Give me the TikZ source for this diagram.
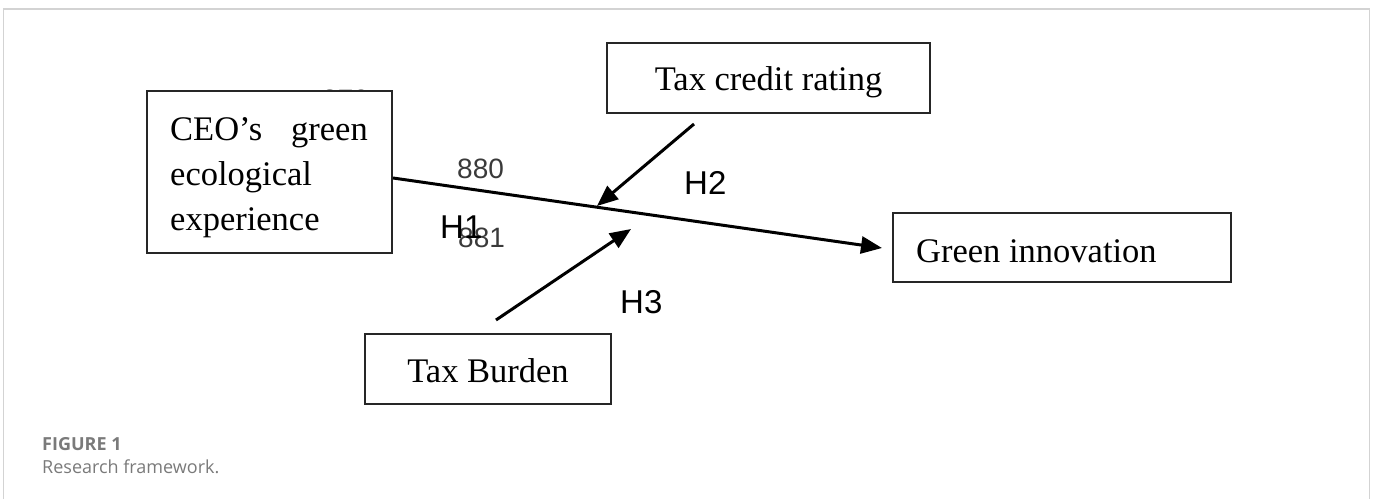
\documentclass[tikz,border=0pt]{standalone}
\usepackage{fontspec}
\setmainfont{Liberation Serif}
\newfontfamily\labfont{Liberation Sans}
\newfontfamily\capfont{Open Sans}
\usetikzlibrary{arrows.meta}
\definecolor{framegray}{HTML}{D3D3D3}
\definecolor{numgray}{HTML}{3A3A3A}
\definecolor{capgray}{HTML}{7A7A7A}
\tikzset{
  boxstyle/.style={draw=black!85, line width=2pt, fill=white, inner sep=0pt},
  boxtext/.style={font=\fontsize{34.5}{45}\selectfont, inner sep=0pt, anchor=base west},
  hlabel/.style={font=\labfont\fontsize{33}{36}\selectfont, inner sep=0pt, anchor=base west},
  numlabel/.style={font=\labfont\fontsize{28}{30}\selectfont, text=numgray, inner sep=0pt, anchor=base west},
  arr/.style={line width=3pt, -{Triangle[length=21pt,width=17pt]}},
  framestyle/.style={draw=framegray, line width=1.5pt}
}
\begin{document}
\begin{tikzpicture}[x=1pt,y=-1pt]
\useasboundingbox (0,0) rectangle (1375,499);
% frame
\draw[framestyle] (3.5,499) -- (3.5,9) -- (1369.5,9) -- (1369.5,499);
% hidden number behind box
\node[numlabel] (n870) at (322,109) {870};
% boxes
\node[boxstyle, minimum width=245pt, minimum height=162pt] (ceo) at (269.5,172) {};
\node[boxtext] (ceo1) at (170,140) {CEO’s};
\node[boxtext, anchor=base east] (ceo2) at (368,140) {green};
\node[boxtext] (ceo3) at (170,185) {ecological};
\node[boxtext] (ceo4) at (170,230) {experience};
\node[boxstyle, minimum width=323pt, minimum height=70pt] (tcr) at (768.5,78) {};
\node[boxtext, anchor=base] (tcrt) at (768.5,90) {Tax credit rating};
\node[boxstyle, minimum width=338pt, minimum height=69pt] (gi) at (1062,247.5) {};
\node[boxtext] (git) at (916,262) {Green innovation};
\node[boxstyle, minimum width=246pt, minimum height=70pt] (tb) at (488,369) {};
\node[boxtext, anchor=base] (tbt) at (488,382) {Tax Burden};
% connector end points
\coordinate (mainstart) at (393,178);
\coordinate (maintip) at (882,248);
\coordinate (h2start) at (694,124);
\coordinate (h2tip) at (597,206);
\coordinate (h3start) at (496,320);
\coordinate (h3tip) at (631,229);
\draw[arr] (mainstart) -- (maintip);
\draw[arr] (h2start) -- (h2tip);
\draw[arr] (h3start) -- (h3tip);
% labels
\node[numlabel] (n880) at (457,178) {880};
\node[numlabel] (n881) at (458,247) {881};
\node[hlabel] (h1) at (440,238) {H1};
\node[hlabel] (h2) at (684,194) {H2};
\node[hlabel] (h3) at (620,313) {H3};
% caption
\node[font=\capfont\bfseries\fontsize{18}{22}\selectfont, text=capgray, inner sep=0pt, anchor=base west] (figlab) at (42,450) {FIGURE 1};
\node[font=\capfont\fontsize{18}{22}\selectfont, text=capgray, inner sep=0pt, anchor=base west] (figcap) at (42,473) {Research framework.};
\end{tikzpicture}
\end{document}
